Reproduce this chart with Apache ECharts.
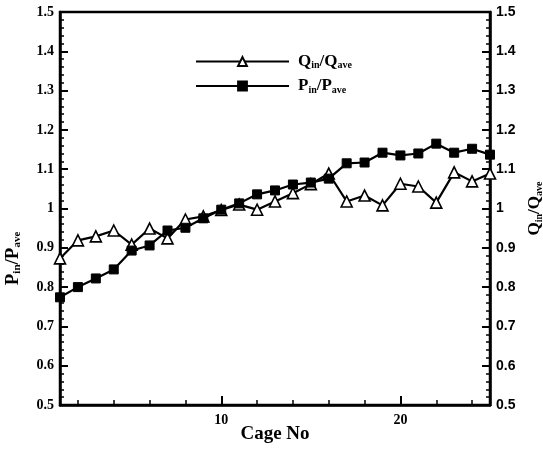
<!DOCTYPE html>
<html>
<head>
<meta charset="utf-8">
<script src="https://cdn.jsdelivr.net/npm/echarts@6/dist/echarts.min.js"></script>
<style>
  html, body { margin: 0; padding: 0; background: #fff; }
  #chart { width: 543px; height: 451px; }
</style>
</head>
<body>
<div id="chart"></div>
<script>
// cage numbers and the two normalised series
const cageNo = [1, 2, 3, 4, 5, 6, 7, 8, 9, 10, 11, 12, 13, 14, 15, 16, 17, 18, 19, 20, 21, 22, 23, 24, 25];
const qRatio = [0.873, 0.919, 0.929, 0.944, 0.908, 0.949, 0.924, 0.972, 0.98, 0.996, 1.01, 0.997, 1.018, 1.039, 1.062, 1.089,
  1.018, 1.033, 1.008, 1.063, 1.056, 1.015, 1.092, 1.069, 1.089];
const pRatio = [0.774, 0.8, 0.822, 0.845, 0.893, 0.906, 0.944, 0.951, 0.975, 0.997, 1.013, 1.036, 1.046, 1.061, 1.066, 1.076,
  1.115, 1.117, 1.142, 1.135, 1.14, 1.165, 1.142, 1.152, 1.137];
const xMajorTicks = [10, 20];
const xMinorTicks = [2, 4, 6, 8, 12, 14, 16, 18, 22, 24];

const serif = "Liberation Serif";
const sans = "Liberation Sans";

const rich = {
  m: { fontFamily: serif, fontWeight: "bold", fontSize: 17, color: "#000" },
  s: { fontFamily: serif, fontWeight: "bold", fontSize: 10, color: "#000", padding: [8, 0, 0, 0] }
};
const richBig = {
  m: { fontFamily: serif, fontWeight: "bold", fontSize: 19, color: "#000" },
  s: { fontFamily: serif, fontWeight: "bold", fontSize: 11, color: "#000", padding: [9, 0, 0, 0] }
};

const chart = echarts.init(document.getElementById("chart"));

const yBase = {
  type: "value",
  min: 0.5,
  max: 1.5,
  interval: 0.1,
  splitLine: { show: false },
  axisLine: { show: true, lineStyle: { color: "#000", width: 2.5 } },
  axisTick: { show: true, inside: true, length: 8, lineStyle: { color: "#000", width: 2 } },
  minorTick: { show: true, splitNumber: 5, length: 4, lineStyle: { color: "#000", width: 1.5 } },
  nameLocation: "middle",
  nameRotate: 90
};

chart.setOption({
  animation: false,
  backgroundColor: "#fff",
  grid: {
    left: 60, right: 53, top: 12, bottom: 46,
    outerBoundsMode: "none",
    containLabel: false,
    show: true, borderColor: "#000", borderWidth: 2.5
  },
  legend: {
    orient: "vertical",
    left: 190,
    top: 48,
    itemWidth: 93,
    itemHeight: 11,
    itemGap: 7,
    data: ["Q", "P"],
    formatter: function (name) {
      return name === "Q" ? "{m|Q}{s|in}{m|/Q}{s|ave}" : "{m|P}{s|in}{m|/P}{s|ave}";
    },
    textStyle: { rich: rich, padding: [0, 0, 0, 4] }
  },
  xAxis: [
    {
      type: "value",
      min: 1,
      max: 25,
      splitLine: { show: false },
      axisLine: { show: true, lineStyle: { color: "#000", width: 2.5 } },
      axisTick: { show: true, inside: true, length: 9, customValues: xMajorTicks, lineStyle: { color: "#000", width: 2 } },
      axisLabel: {
        customValues: xMajorTicks,
        margin: 8,
        fontFamily: serif, fontWeight: "bold", fontSize: 14, color: "#000"
      },
      name: "Cage No",
      nameLocation: "middle",
      nameMoveOverlap: false,
      nameGap: 20,
      nameTextStyle: { fontFamily: serif, fontWeight: "bold", fontSize: 19, color: "#000" }
    },
    {
      type: "value",
      min: 1,
      max: 25,
      position: "bottom",
      splitLine: { show: false },
      axisLine: { show: false },
      axisTick: { show: true, inside: true, length: 5, customValues: xMinorTicks, lineStyle: { color: "#000", width: 1.5 } },
      axisLabel: { show: false }
    }
  ],
  yAxis: [
    Object.assign({}, yBase, {
      position: "left",
      axisLabel: { margin: 6, fontFamily: serif, fontWeight: "bold", fontSize: 14, color: "#000" },
      name: "{m|P}{s|in}{m|/P}{s|ave}",
      nameGap: 37,
      nameTextStyle: { rich: richBig, padding: [0, 100, 0, 0] }
    }),
    Object.assign({}, yBase, {
      position: "right",
      axisLabel: { margin: 6, fontFamily: sans, fontWeight: "bold", fontSize: 14, color: "#000" },
      name: "{m|Q}{s|in}{m|/Q}{s|ave}",
      nameGap: 36,
      nameTextStyle: { rich: rich }
    })
  ],
  series: [
    {
      name: "Q",
      type: "line",
      xAxisIndex: 0,
      yAxisIndex: 1,
      data: cageNo.map((c, i) => [c, qRatio[i]]),
      symbol: "triangle",
      symbolSize: 11,
      showAllSymbol: true,
      lineStyle: { color: "#000", width: 2.2 },
      itemStyle: { color: "#fff", borderColor: "#000", borderWidth: 1.6 }
    },
    {
      name: "P",
      type: "line",
      xAxisIndex: 0,
      yAxisIndex: 0,
      data: cageNo.map((c, i) => [c, pRatio[i]]),
      symbol: "rect",
      symbolSize: 9,
      showAllSymbol: true,
      lineStyle: { color: "#000", width: 2.2 },
      itemStyle: { color: "#000", borderColor: "#000", borderWidth: 1 }
    }
  ]
});
</script>
</body>
</html>
